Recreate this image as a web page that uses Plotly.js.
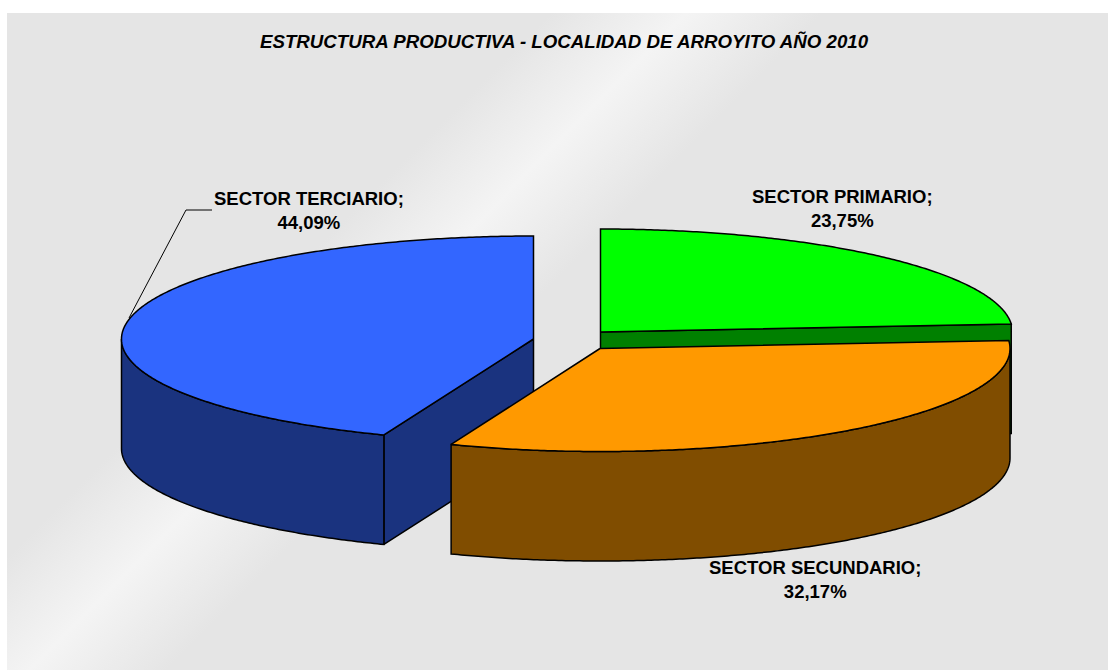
<!DOCTYPE html>
<html>
<head>
<meta charset="utf-8">
<script src="https://cdn.plot.ly/plotly-3.0.1.min.js"></script>
<style>
html,body{margin:0;padding:0;background:#fff;width:1108px;height:670px;overflow:hidden}
#bg{position:absolute;left:7px;top:13px;width:1101px;height:657px;
background:linear-gradient(135deg,#e5e5e5 0,#e5e5e5 385px,#f4f4f4 481px,#e5e5e5 577px,#e5e5e5 100%)}
#chart{position:absolute;left:0;top:0;width:1108px;height:670px}
</style>
</head>
<body>
<div id="bg"></div>
<div id="chart"></div>
<script>
// Data
const titleText = "ESTRUCTURA PRODUCTIVA - LOCALIDAD DE ARROYITO AÑO 2010";
const sectors = ["SECTOR PRIMARIO", "SECTOR SECUNDARIO", "SECTOR TERCIARIO"];
const shares = [23.75, 32.17, 44.09];
const topColors = ["#00FF00", "#FF9900", "#3366FF"];
const sideColors = ["#008000", "#804D00", "#1A337F"];

// Projection of the tilted, exploded pie
const radiiX = [412, 410, 412], ry = 103, depth = 109.5;
const centres = [[600.5, 332], [600, 348.5], [533.5, 339]];
const labelPos = [[842.5, 208], [815, 579.5], [309, 210.5]];
const total = shares.reduce((a, b) => a + b, 0);

let acc = 0;
const spans = shares.map(v => { const s = acc; acc += v / total * 360; return [s, acc]; });

const pt = (i, deg, dz = 0) => {
  const r = deg * Math.PI / 180, c = centres[i];
  return [c[0] + radiiX[i] * Math.sin(r), c[1] - ry * Math.cos(r) + dz];
};
const arc = (i, a, b, dz = 0) => {
  const n = Math.max(2, Math.ceil(Math.abs(b - a) * 2)), out = [];
  for (let k = 0; k <= n; k++) out.push(pt(i, a + (b - a) * k / n, dz));
  return out;
};
const poly = (pts, fill, w = 1.5) => ({
  type: "scatter", mode: "lines", x: pts.map(p => p[0]), y: pts.map(p => p[1]),
  fill: "toself", fillcolor: fill, line: {color: "#000", width: w, simplify: false},
  hoverinfo: "skip", showlegend: false
});
const cutFace = (i, deg) => {
  const c = centres[i], e = pt(i, deg);
  return poly([c, e, [e[0], e[1] + depth], [c[0], c[1] + depth], c], sideColors[i]);
};
const sideWall = (i, a, b) => {
  const pts = arc(i, a, b).concat(arc(i, b, a, depth));
  pts.push(pts[0]);
  return poly(pts, sideColors[i]);
};
const topFace = i => poly([centres[i]].concat(arc(i, spans[i][0], spans[i][1]), [centres[i]]), topColors[i]);

const traces = [];
// Tertiary (back-left slice)
traces.push(cutFace(2, spans[2][0]));
traces.push(sideWall(2, spans[2][0], 270));
traces.push(topFace(2));
// Primary (back-right slice)
traces.push(cutFace(0, spans[0][1]));
traces.push(topFace(0));
// Secondary (front slice)
traces.push(sideWall(1, 90, spans[1][1]));
traces.push(topFace(1));
// Leader line of the tertiary label
traces.push({
  type: "scatter", mode: "lines", x: [129, 186, 212], y: [318, 210, 210],
  line: {color: "#000", width: 1}, hoverinfo: "skip", showlegend: false
});

const fmt = v => v.toFixed(2).replace(".", ",") + "%";
const fontFamily = "Liberation Sans, Arial, sans-serif";
const annotations = sectors.map((s, i) => ({
  x: labelPos[i][0], y: labelPos[i][1], xref: "x", yref: "y", showarrow: false,
  text: "<b>" + s + ";<br>" + fmt(shares[i]) + "</b>", align: "center",
  font: {family: fontFamily, size: 18.5, color: "#000"}
}));
annotations.push({
  x: 564, y: 41, xref: "x", yref: "y", showarrow: false,
  text: "<b><i>" + titleText + "</i></b>",
  font: {family: fontFamily, size: 18.7, color: "#000"}
});

const hidden = {visible: false, fixedrange: true};
Plotly.newPlot("chart", traces, {
  width: 1108, height: 670,
  margin: {l: 0, r: 0, t: 0, b: 0},
  paper_bgcolor: "rgba(0,0,0,0)", plot_bgcolor: "rgba(0,0,0,0)",
  xaxis: Object.assign({range: [0, 1108]}, hidden),
  yaxis: Object.assign({range: [670, 0]}, hidden),
  annotations: annotations, showlegend: false
}, {displayModeBar: false, staticPlot: true});
</script>
</body>
</html>
